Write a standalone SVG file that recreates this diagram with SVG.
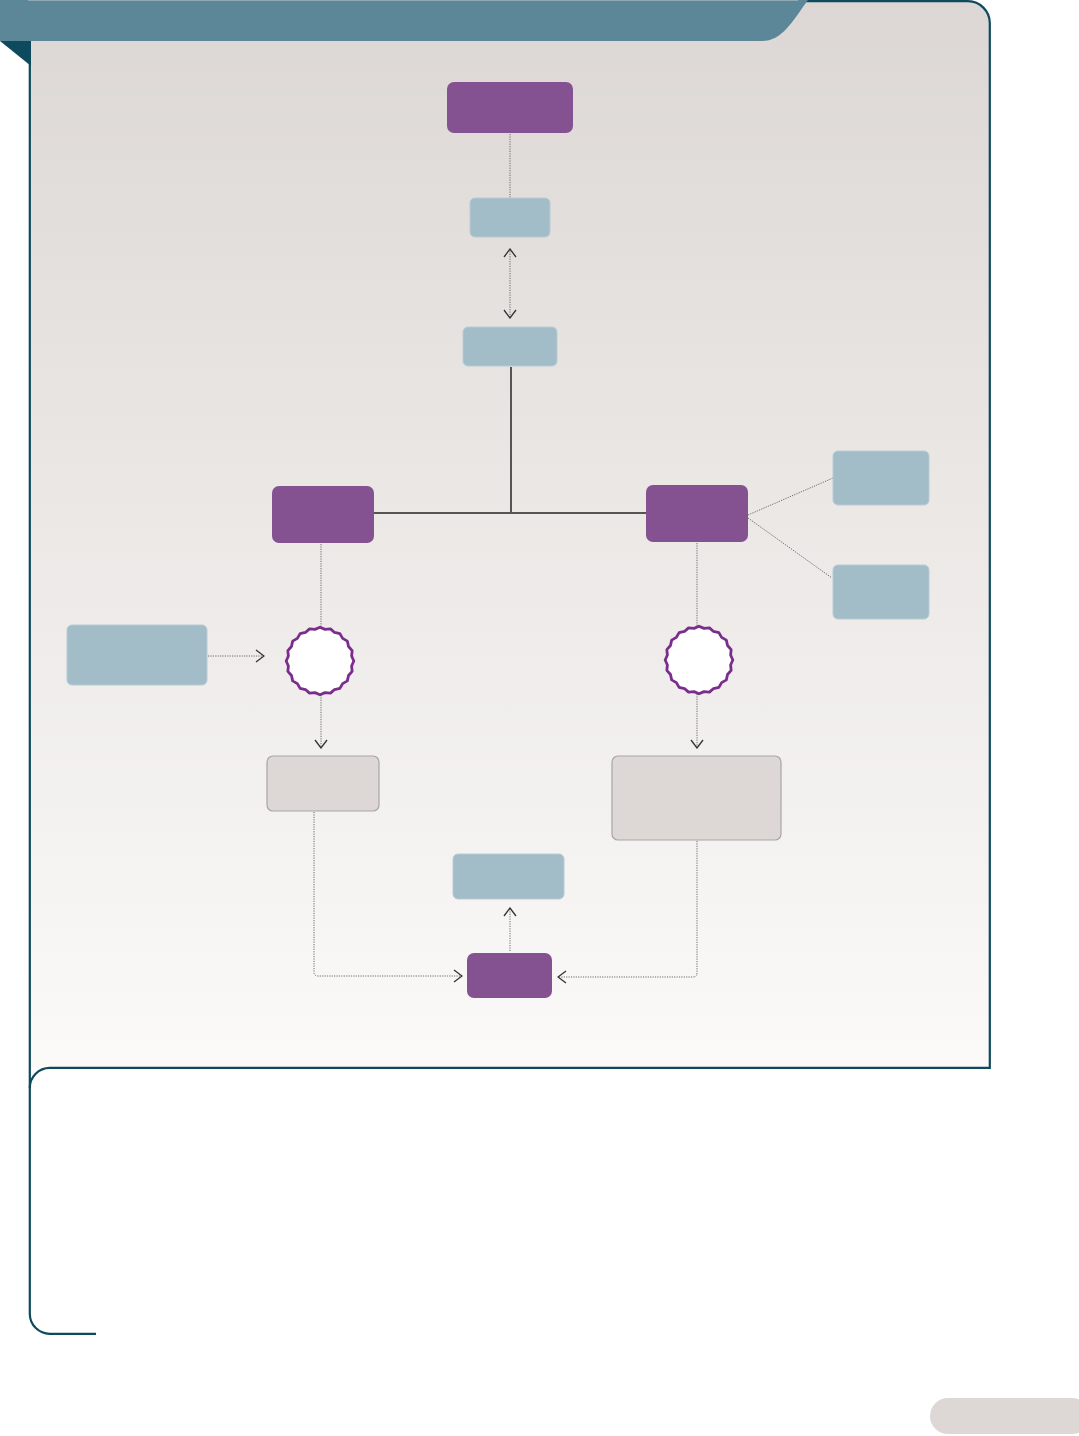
<svg xmlns="http://www.w3.org/2000/svg" width="1079" height="1436" viewBox="0 0 1079 1436">
<defs>
<linearGradient id="bg" x1="0" y1="0" x2="0" y2="1">
<stop offset="0" stop-color="#dcd7d4"/>
<stop offset="1" stop-color="#fbfaf9"/>
</linearGradient>
<marker id="chev" viewBox="0 0 10 14" refX="9" refY="7" markerWidth="10" markerHeight="14" markerUnits="userSpaceOnUse" orient="auto-start-reverse">
<path d="M1 1 L9 7 L1 13" fill="none" stroke="#333" stroke-width="1.3"/>
</marker>
<path id="wavy" d="M33.8,0 L31.61,5 L32.15,10.44 L28.51,14.53 L27.34,19.87 L22.63,22.63 L19.87,27.34 L14.53,28.51 L10.44,32.15 L5,31.61 L0,33.8 L-5,31.61 L-10.44,32.15 L-14.53,28.51 L-19.87,27.34 L-22.63,22.63 L-27.34,19.87 L-28.51,14.53 L-32.15,10.44 L-31.61,5 L-33.8,0 L-31.61,-5 L-32.15,-10.44 L-28.51,-14.53 L-27.34,-19.87 L-22.63,-22.63 L-19.87,-27.34 L-14.53,-28.51 L-10.44,-32.15 L-5,-31.61 L0,-33.8 L5,-31.61 L10.44,-32.15 L14.53,-28.51 L19.87,-27.34 L22.63,-22.63 L27.34,-19.87 L28.51,-14.53 L32.15,-10.44 L31.61,-5 Z"/>
</defs>
<style>
.purple{fill:#845191;}
.blue{fill:#a2bcc8;stroke:#b8ccd5;stroke-width:1;}
.gray{fill:#ddd8d6;stroke:#a8a5a4;stroke-width:1.2;}
.dot{fill:none;stroke:#6a6a6a;stroke-width:1;stroke-dasharray:1.2 1.2;}
.solid{fill:none;stroke:#555;stroke-width:2;}
.circ{fill:#fff;stroke:#7a2d8c;stroke-width:2.8;stroke-linejoin:round;}
.frame{fill:none;stroke:#0d4a5d;stroke-width:2.2;}
</style>

<rect x="0" y="0" width="1079" height="1436" fill="#ffffff"/>
<path d="M29 0 H968 A22 22 0 0 1 990 22 V1068 H29 Z" fill="url(#bg)"/>
<path class="frame" d="M790 1.2 H968 A22 22 0 0 1 989.8 23 V1067.8 H50"/>
<path class="frame" d="M29.8 42 V1314 A20 20 0 0 0 50 1333.8 H96"/>
<path class="frame" d="M29.8 1088 A20 20 0 0 1 50 1067.8"/>
<path d="M0 0 H808 C792 22 782 41 762 41 H0 Z" fill="#5c8799"/>
<rect x="28" y="0" width="770" height="1" fill="#8fa9b5"/>
<polygon points="0,41 31,41 31,66" fill="#0d4a5d"/>
<rect x="930" y="1398" width="160" height="36" rx="18" fill="#ddd8d6"/>

<g id="connectors">
<line class="dot" x1="510" y1="134" x2="510" y2="198"/>
<line class="dot" x1="510" y1="249" x2="510" y2="318" marker-start="url(#chev)" marker-end="url(#chev)"/>
<path class="solid" d="M511 367 V513 M373 513 H647"/>
<line class="dot" x1="748" y1="515" x2="833" y2="478"/>
<line class="dot" x1="748" y1="518" x2="832" y2="578"/>
<line class="dot" x1="321" y1="544" x2="321" y2="627"/>
<line class="dot" x1="697" y1="543" x2="697" y2="626"/>
<line class="dot" x1="208" y1="656" x2="264" y2="656" marker-end="url(#chev)"/>
<line class="dot" x1="321" y1="695" x2="321" y2="748" marker-end="url(#chev)"/>
<line class="dot" x1="697" y1="694" x2="697" y2="748" marker-end="url(#chev)"/>
<path class="dot" d="M314 812 V972 Q314 976 318 976 H462" marker-end="url(#chev)"/>
<path class="dot" d="M697 841 V973 Q697 977 693 977 H558" marker-end="url(#chev)"/>
<line class="dot" x1="510" y1="951" x2="510" y2="908" marker-end="url(#chev)"/>
</g>

<g id="n-top"><rect class="purple" x="447" y="82" width="126" height="51" rx="7"/></g>
<g id="n-b1"><rect class="blue" x="470" y="198" width="80" height="39" rx="5"/></g>
<g id="n-b2"><rect class="blue" x="463" y="327" width="94" height="39" rx="5"/></g>
<g id="n-left"><rect class="purple" x="272" y="486" width="102" height="57" rx="7"/></g>
<g id="n-right"><rect class="purple" x="646" y="485" width="102" height="57" rx="7"/></g>
<g id="n-ra"><rect class="blue" x="833" y="451" width="96" height="54" rx="5"/></g>
<g id="n-rb"><rect class="blue" x="833" y="565" width="96" height="54" rx="5"/></g>
<g id="n-lb"><rect class="blue" x="67" y="625" width="140" height="60" rx="5"/></g>
<g id="n-c1"><use href="#wavy" class="circ" transform="translate(320,661)"/></g>
<g id="n-c2"><use href="#wavy" class="circ" transform="translate(699,660)"/></g>
<g id="n-g1"><rect class="gray" x="267" y="756" width="112" height="55" rx="6"/></g>
<g id="n-g2"><rect class="gray" x="612" y="756" width="169" height="84" rx="6"/></g>
<g id="n-bb"><rect class="blue" x="453" y="854" width="111" height="45" rx="5"/></g>
<g id="n-bp"><rect class="purple" x="467" y="953" width="85" height="45" rx="7"/></g>
</svg>
